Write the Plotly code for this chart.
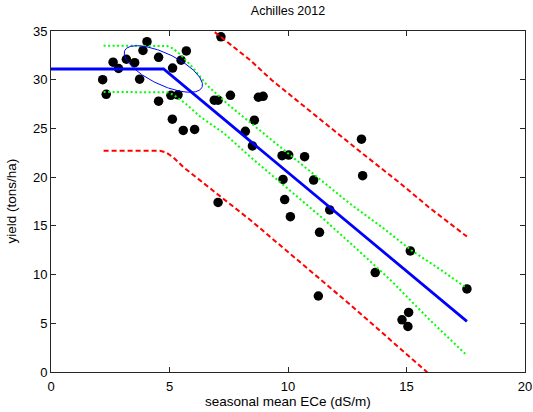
import numpy as np
import plotly.graph_objects as go

# ---- data ----
ece = [2.18, 2.33, 2.62, 2.85, 3.18, 3.53, 3.74, 3.88, 4.05, 4.54, 4.54, 5.06, 5.12, 5.13,
       5.36, 5.49, 5.58, 5.71, 6.06, 6.89, 7.05, 7.05, 7.17, 7.57, 8.20, 8.50, 8.58, 8.75,
       8.95, 9.75, 9.79, 9.86, 10.03, 10.10, 10.70, 11.08, 11.28, 11.33, 11.76, 13.10,
       13.15, 13.68, 14.81, 15.06, 15.09, 15.16, 17.55]
yld = [30.0, 28.5, 31.8, 31.15, 32.1, 31.75, 30.05, 33.0, 33.9, 32.3, 27.8, 28.4, 25.95, 31.2,
       28.45, 32.0, 24.8, 32.95, 24.9, 27.9, 27.9, 17.4, 34.4, 28.4, 24.7, 23.2, 25.85, 28.2,
       28.3, 22.2, 19.77, 17.7, 22.27, 15.94, 22.1, 19.7, 7.8, 14.34, 16.63, 23.9,
       20.15, 10.2, 5.36, 4.67, 6.11, 12.43, 8.53]

fit_x = [0, 4.75, 17.55]
fit_y = [31.1, 31.1, 5.2]

ci_up_x = [2.22, 4.7, 4.9, 5.15, 5.5, 6.0, 6.58, 7.5, 9.0, 10.5, 12.6, 14.0, 15.2, 16.5, 17.55]
ci_up_y = [33.5, 33.5, 33.45, 33.2, 32.5, 31.2, 29.45, 27.4, 24.4, 21.4, 17.3, 14.8, 12.5, 10.4, 8.6]
ci_lo_x = [2.22, 4.75, 4.95, 5.2, 5.7, 6.3, 7.3, 8.4, 10.0, 11.5, 12.6, 14.3, 16.0, 17.55]
ci_lo_y = [28.75, 28.75, 28.7, 28.4, 27.5, 26.2, 24.5, 22.1, 18.8, 15.7, 13.3, 9.5, 5.3, 1.7]

pi_up_x = [2.22, 4.6, 5.3, 6.0, 6.85, 8.41, 9.32, 11.0, 13.0, 14.74, 16.0, 17.55]
pi_up_y = [39.5, 39.5, 38.7, 37.1, 35.0, 32.0, 29.95, 26.6, 22.7, 19.36, 16.8, 13.9]
pi_lo_x = [2.22, 4.6, 4.85, 5.17, 5.6, 6.16, 7.0, 8.41, 11.36, 12.63, 15.86, 17.55]
pi_lo_y = [22.7, 22.7, 22.55, 22.0, 21.0, 19.9, 18.3, 15.6, 9.46, 6.9, 0.0, -3.5]

# threshold / max-yield confidence ellipse (centre and semi-axis vectors, data units)
ell_center = (4.74, 31.1)
ell_major = (1.627, -1.902)
ell_minor = (-0.287, -1.449)

x_ticks = [0, 5, 10, 15, 20]
y_ticks = [0, 5, 10, 15, 20, 25, 30, 35]

t = np.linspace(0, 2 * np.pi, 200)
ell_x = ell_center[0] + np.cos(t) * ell_major[0] + np.sin(t) * ell_minor[0]
ell_y = ell_center[1] + np.cos(t) * ell_major[1] + np.sin(t) * ell_minor[1]

W, H = 533, 412
ml, mr, mt, mb = 51, 8, 31, 40
FONT = "Liberation Sans, Arial, sans-serif"

fig = go.Figure()
fig.add_trace(go.Scatter(x=ece, y=yld, mode="markers",
                         marker=dict(color="black", size=9.5, line=dict(width=0))))
fig.add_trace(go.Scatter(x=fit_x, y=fit_y, mode="lines",
                         line=dict(color="#0000FF", width=2.8)))
for xs, ys in [(ci_up_x, ci_up_y), (ci_lo_x, ci_lo_y)]:
    fig.add_trace(go.Scatter(x=xs, y=ys, mode="lines",
                             line=dict(color="#00FF00", width=2, dash="2px,2.5px")))
for xs, ys in [(pi_up_x, pi_up_y), (pi_lo_x, pi_lo_y)]:
    fig.add_trace(go.Scatter(x=xs, y=ys, mode="lines",
                             line=dict(color="#FF0000", width=2, dash="5px,3px")))
fig.add_trace(go.Scatter(x=ell_x, y=ell_y, mode="lines",
                         line=dict(color="#0000FF", width=1)))

axis_common = dict(showgrid=False, zeroline=False, showline=True, linecolor="#262626",
                   linewidth=1, mirror="ticks", ticks="inside", ticklen=5,
                   tickcolor="#262626", tickfont=dict(family=FONT, size=13, color="black"))
fig.update_xaxes(range=[0, 20], tickvals=x_ticks, ticktext=[str(v) for v in x_ticks],
                 ticklabelstandoff=2, **axis_common)
fig.update_yaxes(range=[0, 35], tickvals=y_ticks, ticktext=[str(v) for v in y_ticks],
                 **axis_common)

fig.update_layout(
    width=W, height=H, showlegend=False,
    margin=dict(l=ml, r=mr, t=mt, b=mb, autoexpand=False),
    paper_bgcolor="white", plot_bgcolor="white",
    title=dict(text="Achilles 2012", x=(ml + (W - ml - mr) / 2) / W, xanchor="center",
               y=1 - 11 / H, yanchor="middle", yref="container",
               font=dict(family=FONT, size=12.5, color="black")),
    annotations=[
        dict(text="seasonal mean ECe (dS/m)", xref="paper", yref="paper",
             x=0.5, y=-29 / (H - mt - mb), xanchor="center", yanchor="middle",
             showarrow=False, font=dict(family=FONT, size=13.5, color="black")),
        dict(text="yield (tons/ha)", xref="paper", yref="paper",
             x=-40 / (W - ml - mr), y=0.5, xanchor="center", yanchor="middle",
             textangle=-90, showarrow=False,
             font=dict(family=FONT, size=13.5, color="black")),
    ],
)

fig.write_html("out.html")
